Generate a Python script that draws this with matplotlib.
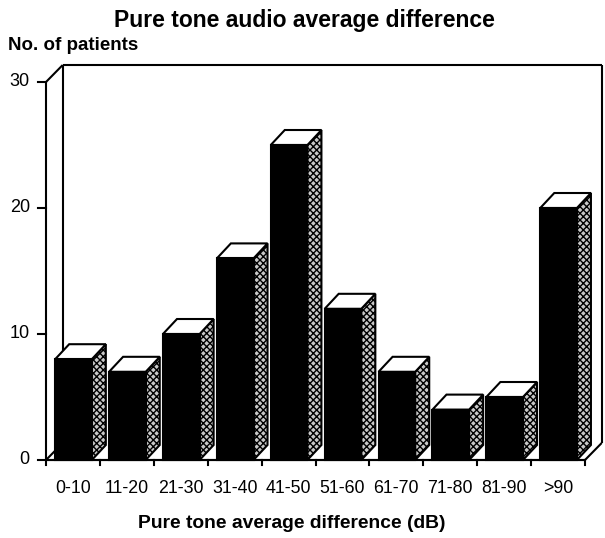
import numpy as np
import matplotlib
matplotlib.use("Agg")
import matplotlib.pyplot as plt
from matplotlib.patches import Polygon, Rectangle

plt.rcParams["font.family"] = ["Liberation Sans", "DejaVu Sans"]
plt.rcParams["hatch.linewidth"] = 1.0

# ── Data ──────────────────────────────────────────────────────────────────────
categories = ["0-10", "11-20", "21-30", "31-40", "41-50",
              "51-60", "61-70", "71-80", "81-90", ">90"]
patients = [8, 7, 10, 16, 25, 12, 7, 4, 5, 20]
y_ticks = [0, 10, 20, 30]

# ── 3D look (in data units) ───────────────────────────────────────────────────
BAR_L, BAR_R = 0.17, 0.85      # front face inside each category slot
BAR_DX, BAR_DY = 0.26, 1.19    # bar depth
WALL_DX, WALL_DY = 0.31, 1.35  # back wall offset
LW = 1.5

fig = plt.figure(figsize=(6.05, 5.38), dpi=100)
# px 46..605 horizontally, px 460 (y=0) .. px 60 vertically
ax = fig.add_axes([46 / 605, 78 / 538, 559 / 605, 400 / 538])
ax.set_xlim(0, 559 / 53.9)
ax.set_ylim(0, 400 / 12.6)
ax.axis("off")

n = len(categories)
ytop = y_ticks[-1]

# back wall + floor outline
wall = [
    ([0, 0], [0, ytop]),
    ([0, WALL_DX], [ytop, ytop + WALL_DY]),
    ([WALL_DX, WALL_DX], [WALL_DY, ytop + WALL_DY]),
    ([WALL_DX, n + WALL_DX], [ytop + WALL_DY, ytop + WALL_DY]),
    ([n + WALL_DX, n + WALL_DX], [WALL_DY, ytop + WALL_DY]),
    ([0, WALL_DX], [0, WALL_DY]),
    ([n, n + WALL_DX], [0, WALL_DY]),
    ([0, n], [0, 0]),
]
for xs, ys in wall:
    ax.plot(xs, ys, color="black", lw=LW, solid_capstyle="butt",
            clip_on=False, zorder=1)

# bars
for i, v in enumerate(patients):
    x0, x1 = i + BAR_L, i + BAR_R
    side = Polygon([(x1, 0), (x1 + BAR_DX, BAR_DY), (x1 + BAR_DX, v + BAR_DY), (x1, v)],
                   closed=True, facecolor="#c8c8c8", edgecolor="black",
                   hatch="xxxxx", lw=LW, zorder=3, clip_on=False)
    top = Polygon([(x0, v), (x1, v), (x1 + BAR_DX, v + BAR_DY), (x0 + BAR_DX, v + BAR_DY)],
                  closed=True, facecolor="white", edgecolor="black",
                  lw=LW, zorder=3, clip_on=False)
    front = Rectangle((x0, 0), x1 - x0, v, facecolor="black",
                      edgecolor="black", lw=LW, zorder=4, clip_on=False)
    ax.add_patch(side)
    ax.add_patch(top)
    ax.add_patch(front)

# redraw front x axis on top
ax.plot([0, n], [0, 0], color="black", lw=LW, clip_on=False, zorder=5)

# ticks
tick_len_x = 8 / 53.9
tick_len_y = 5 / 12.6
for t in y_ticks:
    ax.plot([-tick_len_x, 0], [t, t], color="black", lw=LW, clip_on=False, zorder=5)
    ax.text(-0.3, t, str(t), ha="right", va="center", fontsize=13, clip_on=False)
for i in range(n + 1):
    ax.plot([i, i], [0, -tick_len_y], color="black", lw=LW, clip_on=False, zorder=5)
for i, c in enumerate(categories):
    ax.text(i + 0.5, -2.3, c, ha="center", va="center", fontsize=12.8, clip_on=False)

fig.text(304 / 605, 1 - 20 / 538, "Pure tone audio average difference",
         ha="center", va="center", fontsize=16.5, fontweight="bold")
fig.text(8 / 605, 1 - 46 / 538, "No. of patients",
         ha="left", va="center", fontsize=13.5, fontweight="bold")
fig.text(292 / 605, 1 - 524 / 538, "Pure tone average difference (dB)",
         ha="center", va="center", fontsize=13.9, fontweight="bold")

fig.savefig("out.png", dpi=100)
